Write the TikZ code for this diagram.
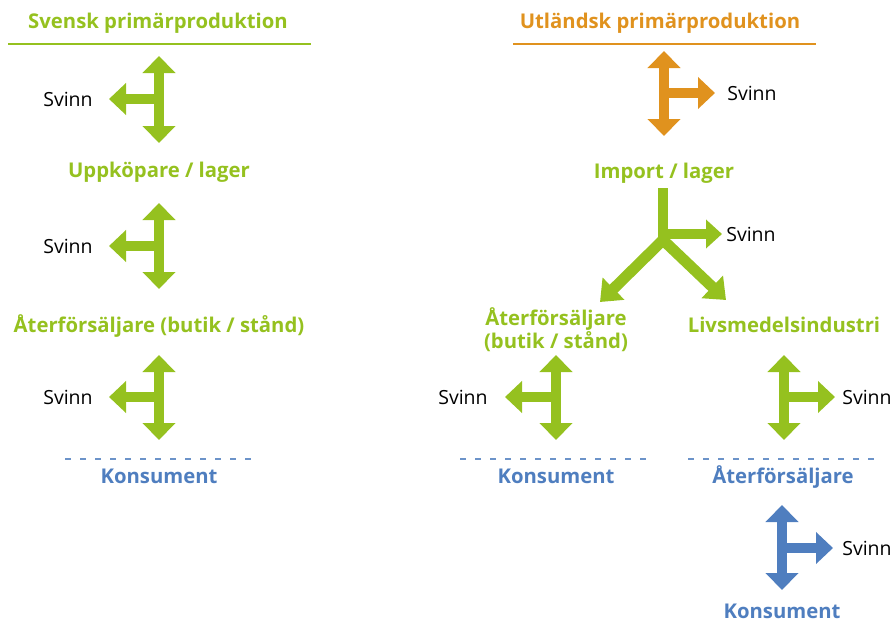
\documentclass[tikz,border=0pt]{standalone}
\usepackage{fontspec}
\setmainfont{Open Sans}
\usetikzlibrary{arrows.meta}
\definecolor{lgreen}{HTML}{95C11F}
\definecolor{orng}{HTML}{E0921E}
\definecolor{cblue}{HTML}{4F7EBF}
\definecolor{dblue}{HTML}{6C93C9}
\begin{document}
\begin{tikzpicture}[x=1pt,y=-1pt,
  lbl/.style={inner sep=0pt, anchor=base, align=center, font=\fontsize{20.3}{23}\selectfont\bfseries},
  glbl/.style={lbl, text=lgreen},
  olbl/.style={lbl, text=orng},
  blbl/.style={lbl, text=cblue},
  svinn/.style={inner sep=0pt, anchor=center, font=\fontsize{19.5}{22}\selectfont},
  fat/.style={line width=10.5pt},
  both/.style={fat, {Triangle[width=32pt,length=17pt]}-{Triangle[width=32pt,length=17pt]}},
  one/.style={fat, -{Triangle[width=31pt,length=17pt]}},
  dline/.style={dblue, line width=1.6pt, dash pattern=on 6pt off 9pt}
]
\useasboundingbox (0,0) rectangle (895,624);

% ---------- left column ----------
\node[glbl] (t1) at (158,28) {Svensk primärproduktion};
\coordinate (l1a) at (8,44); \coordinate (l1b) at (311,44);
\draw[lgreen, line width=1.8pt] (l1a) -- (l1b);

\coordinate (a1t) at (159,56); \coordinate (a1b) at (159,143);
\coordinate (a1m) at (159,99); \coordinate (a1l) at (109,99);
\draw[lgreen, both] (a1t) -- (a1b);
\draw[lgreen, one] (a1m) -- (a1l);
\node[svinn] (s1) at (68,99) {Svinn};

\node[glbl] (n2) at (159,177) {Uppköpare / lager};

\coordinate (a2t) at (159,203); \coordinate (a2b) at (159,289);
\coordinate (a2m) at (159,246); \coordinate (a2l) at (109,246);
\draw[lgreen, both] (a2t) -- (a2b);
\draw[lgreen, one] (a2m) -- (a2l);
\node[svinn] (s2) at (68,246) {Svinn};

\node[glbl] (n3) at (159,332) {Återförsäljare (butik / stånd)};

\coordinate (a3t) at (159,355); \coordinate (a3b) at (159,440);
\coordinate (a3m) at (159,397); \coordinate (a3l) at (109,397);
\draw[lgreen, both] (a3t) -- (a3b);
\draw[lgreen, one] (a3m) -- (a3l);
\node[svinn] (s3) at (68,397) {Svinn};

\coordinate (d1a) at (65,459); \coordinate (d1b) at (255,459);
\draw[dline] (d1a) -- (d1b);
\node[blbl] (k1) at (159,483) {Konsument};

% ---------- right column ----------
\node[olbl] (t2) at (660,28) {Utländsk primärproduktion};
\coordinate (l2a) at (513,44); \coordinate (l2b) at (816,44);
\draw[orng, line width=1.8pt] (l2a) -- (l2b);

\coordinate (o1t) at (664,51); \coordinate (o1b) at (664,136);
\coordinate (o1m) at (664,93); \coordinate (o1r) at (715,93);
\draw[orng, both] (o1t) -- (o1b);
\draw[orng, one] (o1m) -- (o1r);
\node[svinn] (s4) at (752,93) {Svinn};

\node[glbl] (imp) at (664,178) {Import / lager};

\coordinate (ft) at (663,188); \coordinate (fj) at (663,240);
\coordinate (fm) at (663,234); \coordinate (fr) at (722,234);
\coordinate (fl) at (600,302); \coordinate (fd) at (726,300);
\draw[lgreen, fat, line cap=butt] (ft) -- (fj);
\draw[lgreen, fat, -{Triangle[width=28pt,length=16pt]}] (fm) -- (fr);
\draw[lgreen, line width=11pt, -{Triangle[width=30pt,length=19pt]}] (fj) -- (fl);
\draw[lgreen, line width=11pt, -{Triangle[width=30pt,length=19pt]}] (fj) -- (fd);
\node[svinn] (s5) at (751,234) {Svinn};

\node[glbl] (n4) at (556,348) {Återförsäljare\\(butik / stånd)};
\node[glbl] (n5) at (784,332) {Livsmedelsindustri};

\coordinate (b1t) at (556,355); \coordinate (b1b) at (556,440);
\coordinate (b1m) at (556,397); \coordinate (b1l) at (505,397);
\draw[lgreen, both] (b1t) -- (b1b);
\draw[lgreen, one] (b1m) -- (b1l);
\node[svinn] (s6) at (463,397) {Svinn};

\coordinate (c1t) at (784,355); \coordinate (c1b) at (784,440);
\coordinate (c1m) at (784,397); \coordinate (c1r) at (835,397);
\draw[lgreen, both] (c1t) -- (c1b);
\draw[lgreen, one] (c1m) -- (c1r);
\node[svinn] (s7) at (867,397) {Svinn};

\coordinate (d2a) at (460,459); \coordinate (d2b) at (650,459);
\draw[dline] (d2a) -- (d2b);
\coordinate (d3a) at (688,459); \coordinate (d3b) at (878,459);
\draw[dline] (d3a) -- (d3b);

\node[blbl] (k2) at (556,483) {Konsument};
\node[blbl] (r2) at (783,483) {Återförsäljare};

\coordinate (e1t) at (782,505); \coordinate (e1b) at (782,590);
\coordinate (e1m) at (782,548); \coordinate (e1r) at (833,548);
\draw[cblue, both] (e1t) -- (e1b);
\draw[cblue, one] (e1m) -- (e1r);
\node[svinn] (s8) at (867,548) {Svinn};

\node[blbl] (k3) at (782,618) {Konsument};
\end{tikzpicture}
\end{document}
